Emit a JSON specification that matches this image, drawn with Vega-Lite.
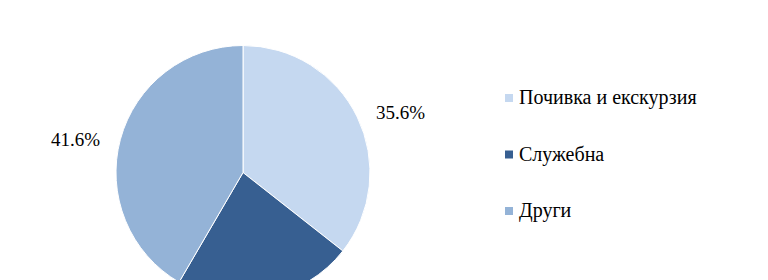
{
  "$schema": "https://vega.github.io/schema/vega-lite/v6.json",
  "width": 486,
  "height": 345,
  "autosize": {"type": "none"},
  "padding": {"left": 0, "top": 0, "right": 282, "bottom": 0},
  "background": "white",
  "data": {"values": [
    {"cat": "Почивка и екскурзия", "value": 35.6, "label": "35.6%", "ord": 1},
    {"cat": "Служебна", "value": 22.8, "label": "22.8%", "ord": 2},
    {"cat": "Други", "value": 41.6, "label": "41.6%", "ord": 3}
  ]},
  "encoding": {
    "theta": {"field": "value", "type": "quantitative", "stack": true},
    "order": {"field": "ord", "type": "quantitative"}
  },
  "layer": [
    {
      "mark": {"type": "arc", "outerRadius": 127, "stroke": "white", "strokeWidth": 1},
      "encoding": {
        "color": {
          "field": "cat", "type": "nominal",
          "scale": {"domain": ["Почивка и екскурзия", "Служебна", "Други"], "range": ["#C5D8F0", "#375F91", "#94B3D7"]},
          "sort": null,
          "legend": {
            "title": null, "orient": "none", "legendX": 499, "legendY": 88, "padding": 0,
            "symbolType": "square", "symbolSize": 64, "symbolStrokeWidth": 0,
            "labelFont": "Liberation Serif", "labelFontSize": 20, "labelColor": "black",
            "labelOffset": 0, "rowPadding": 36.5, "labelLimit": 300
          }
        }
      }
    },
    {
      "mark": {"type": "text", "radius": 148, "dy": 5, "align": "left", "baseline": "middle", "font": "Liberation Serif", "fontSize": 19, "color": "black"},
      "encoding": {"text": {"condition": {"test": "datum.ord == 1", "field": "label"}, "value": ""}}
    },
    {
      "mark": {"type": "text", "radius": 148, "dy": 6, "align": "right", "baseline": "middle", "font": "Liberation Serif", "fontSize": 19, "color": "black"},
      "encoding": {"text": {"condition": {"test": "datum.ord == 3", "field": "label"}, "value": ""}}
    }
  ],
  "config": {"view": {"stroke": null}, "legend": {"labelFont": "Liberation Serif"}}
}
